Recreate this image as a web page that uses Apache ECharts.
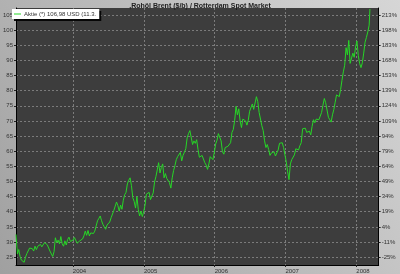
<!DOCTYPE html>
<html><head><meta charset="utf-8">
<script src="https://cdn.jsdelivr.net/npm/echarts@6/dist/echarts.min.js"></script>
<style>html,body{margin:0;padding:0;background:#bbb;}#c{width:400px;height:274px;}</style>
</head><body><div id="c"></div>
<script>
const titleText = ',Rohöl Brent ($/b) / Rotterdam Spot Market';
const seriesName = 'Aktie (*) 106,98 USD (11.3.';
const firstWeek = '2003-03-14';
// weekly closes (Fridays)
const brent2003 = [32.5, 26.0, 27.5,
  25.2, 24.0, 23.6, 23.3,
  25.0, 26.2, 26.8, 28.0, 27.5,
  27.8, 27.0, 28.6, 27.5,
  28.6, 28.0, 29.2, 28.4,
  28.9, 29.8, 30.0, 29.1, 29.7,
  27.0, 26.5, 25.2, 26.8,
  31.4, 29.8, 30.6, 29.4, 31.8,
  29.4, 28.6, 30.4, 29.0,
  30.8, 31.6, 30.2, 30.4];
const brent2004 = [30.6, 31.5, 31.2, 29.6, 30.2,
  30.4, 29.8, 31.0, 32.0,
  33.6, 32.2, 33.8, 32.0,
  33.0, 33.4, 32.8, 33.6, 33.2,
  37.0, 37.8, 38.6, 37.0,
  35.8, 35.0, 34.2, 35.6,
  35.2, 36.6, 38.0, 38.4, 40.4,
  41.0, 43.2, 42.0, 40.2,
  42.2, 40.8, 43.8, 45.6,
  46.4, 49.2, 50.4, 51.2, 48.6,
  44.6, 43.4, 41.2, 45.0,
  40.8, 38.6, 40.2, 38.4, 40.0];
const brent2005 = [42.2, 45.8, 45.2, 46.4,
  44.0, 44.6, 46.2, 49.8,
  51.6, 53.8, 56.2, 52.8,
  54.6, 55.8, 51.2, 52.6, 51.0,
  50.4, 49.6, 47.8, 51.2,
  53.6, 55.2, 57.2, 58.2,
  58.2, 59.6, 56.8, 58.6, 58.4,
  60.8, 64.4, 65.8, 66.8,
  66.4, 62.2, 63.4, 62.6, 63.8,
  60.6, 58.0, 57.4, 58.6,
  58.8, 56.2, 55.4, 54.0,
  55.8, 58.2, 58.8, 57.2, 59.6];
const brent2006 = [62.4, 63.6, 65.8, 66.0,
  63.4, 59.8, 59.0, 61.2,
  61.0, 61.6, 62.2, 62.8, 66.2,
  67.2, 70.2, 74.8, 72.0,
  74.0, 70.0, 67.8, 70.6,
  71.2, 70.0, 68.6, 70.2, 73.2,
  73.4, 75.6, 73.8, 74.2,
  78.0, 76.4, 72.8, 73.4,
  68.4, 66.8, 63.4, 61.2, 62.2,
  60.6, 58.6, 59.4, 58.8,
  59.8, 58.4, 57.8, 60.4,
  62.6, 62.0, 62.8, 61.2, 60.6];
const brent2007 = [56.4, 53.2, 50.6, 55.8,
  57.2, 57.6, 58.8, 60.8,
  61.0, 60.4, 61.8, 62.8, 67.4,
  67.2, 67.6, 66.2, 66.4,
  66.6, 65.4, 68.2, 70.4,
  69.4, 70.6, 71.2, 70.4, 71.6,
  72.8, 75.2, 77.4, 76.0,
  76.4, 71.2, 70.4, 69.6, 72.0,
  73.8, 76.2, 78.6, 78.0,
  78.0, 80.4, 83.4, 86.2,
  88.4, 94.2, 91.8, 96.6, 89.0,
  89.2, 92.4, 91.0, 94.4];
const brent2008 = [96.4, 91.6, 89.0, 87.6,
  89.2, 92.4, 96.0, 97.6, 99.4,
  101.6];
const lastDate = '2008-03-11';
const lastValue = 106.98;

const leftTicks = [25, 30, 35, 40, 45, 50, 55, 60, 65, 70, 75, 80, 85, 90, 95, 100, 105];
const rightLabels = ['-25%', '-11%', '4%', '19%', '34%', '49%', '64%', '79%', '94%', '109%', '124%', '139%', '153%', '168%', '183%', '198%', '213%'];
const yearTicks = ['2004-01-01', '2005-01-01', '2006-01-01', '2007-01-01', '2008-01-01'];
const xMin = '2003-03-14', xMax = '2008-04-25';
const yMin = 22.4, yMax = 107.3;

const weekly = [].concat(brent2003, brent2004, brent2005, brent2006, brent2007, brent2008);
const DAY = 86400000;
const ts = d => Date.parse(d + 'T00:00:00');
const t0 = ts(firstWeek);
const data = weekly.map((v, i) => [t0 + i * 7 * DAY, v]);
data.push([ts(lastDate), lastValue]);
const yearTs = yearTicks.map(ts);

const font = 'Liberation Sans, Arial, sans-serif';
const gridLine = { show: true, lineStyle: { color: '#7c7c7c', type: [2, 2], width: 1 } };

const chart = echarts.init(document.getElementById('c'), null, { renderer: 'canvas' });
chart.setOption({
  animation: false,
  backgroundColor: new echarts.graphic.LinearGradient(0, 1, 1, 0, [
    { offset: 0, color: '#a0a0a0' }, { offset: 1, color: '#d6d6d6' }]),
  title: { text: titleText, left: 'center', top: -2,
    textStyle: { fontSize: 7, fontWeight: 'bold', color: '#222', fontFamily: font } },
  legend: { left: 12, top: 9, padding: [2, 3, 2, 2], itemGap: 2,
    backgroundColor: '#fff', borderColor: '#000', borderWidth: 0,
    shadowColor: 'rgba(0,0,0,0.9)', shadowOffsetX: 2, shadowOffsetY: 2, shadowBlur: 0,
    itemWidth: 7, itemHeight: 1, icon: 'rect',
    textStyle: { fontSize: 6, color: '#333', fontFamily: font, padding: [0, 0, 0, -2] },
    data: [seriesName] },
  grid: { left: 12, right: 16, top: 8, bottom: 9, show: true, backgroundColor: '#3d3d3d', borderWidth: 0 },
  xAxis: { type: 'value', min: ts(xMin), max: ts(xMax),
    axisLine: { show: true, onZero: false, lineStyle: { color: '#000', width: 1 } },
    axisTick: { show: true, length: 2, lineStyle: { color: '#222' }, customValues: yearTs },
    axisLabel: { customValues: yearTs, fontSize: 6, color: '#333', fontFamily: font, align: 'left', margin: 3,
      formatter: v => String(new Date(v).getFullYear()) },
    splitLine: gridLine },
  yAxis: [
    { type: 'value', min: yMin, max: yMax, position: 'left',
      axisLine: { show: true, lineStyle: { color: '#000' } },
      axisTick: { show: true, length: 2, lineStyle: { color: '#222' }, customValues: leftTicks },
      axisLabel: { customValues: leftTicks, fontSize: 6, color: '#333', fontFamily: font, margin: 3 },
      splitLine: gridLine },
    { type: 'value', min: yMin, max: yMax, position: 'right',
      axisLine: { show: true, lineStyle: { color: '#000' } },
      axisTick: { show: true, length: 2, lineStyle: { color: '#222' }, customValues: leftTicks },
      axisLabel: { customValues: leftTicks, fontSize: 6, color: '#333', fontFamily: font, margin: 3,
        formatter: v => rightLabels[leftTicks.indexOf(Math.round(v))] || '' },
      splitLine: { show: false } }
  ],
  series: [{ name: seriesName, type: 'line', data: data, showSymbol: false, symbol: 'none',
    lineStyle: { color: '#27d627', width: 1 }, itemStyle: { color: '#27d627' } }]
});
</script></body></html>
